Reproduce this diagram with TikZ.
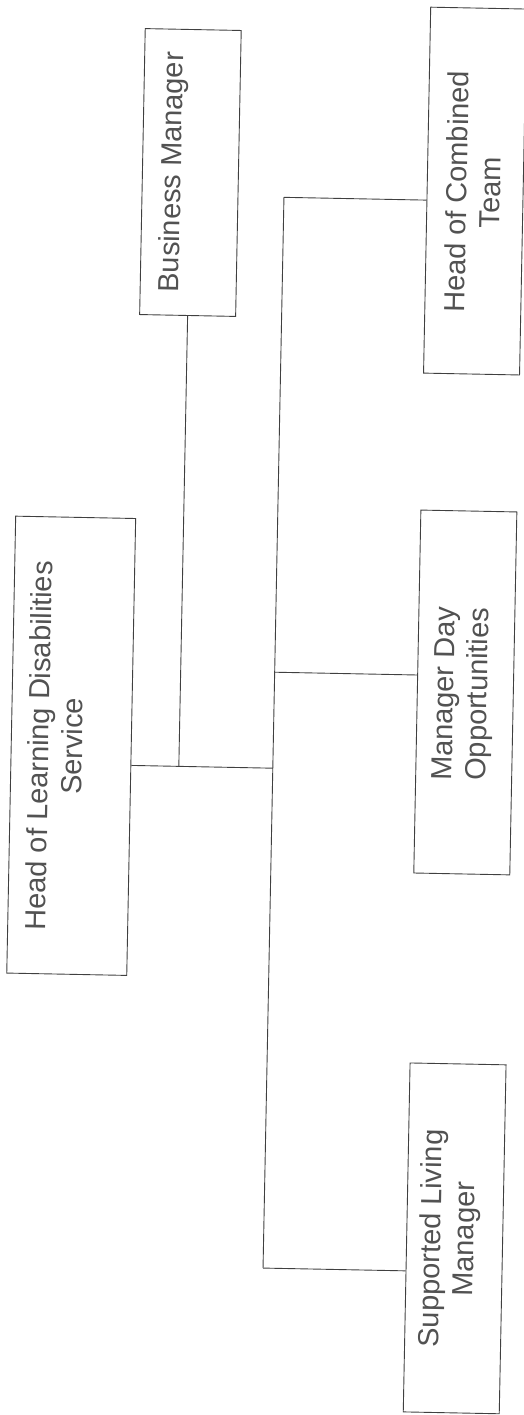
\documentclass[tikz,border=0pt]{standalone}
\usepackage{fontspec}
\setmainfont{Liberation Sans}
\begin{document}
\begin{tikzpicture}[x=1pt,y=1pt,
  box/.style={draw=black!75, line width=0.9pt, inner sep=0pt},
  lbl/.style={rotate=90, align=center, text=black!68, font=\fontsize{29}{33.5}\selectfont, inner sep=0pt},
  conn/.style={draw=black!75, line width=0.9pt}]
\useasboundingbox (0,0) rectangle (524,-1415);
\begin{scope}[rotate around={-1.12:(262,-707)}, transform shape]
  % boxes
  \node[box, minimum width=120, minimum height=457] (head) at (72,-749.5) {};
  \node[box, minimum width=96, minimum height=286] (bm) at (180,-174) {};
  \node[box, minimum width=96, minimum height=366] (hct) at (465,-187) {};
  \node[box, minimum width=96, minimum height=363] (mdo) at (465,-688.5) {};
  \node[box, minimum width=96, minimum height=349] (slm) at (465,-1234.5) {};
  % labels
  \node[lbl] (headT) at (56,-750) {Head of Learning Disabilities\\Service};
  \node[lbl] (bmT) at (163,-174) {Business Manager};
  \node[lbl] (hctT) at (463,-188) {Head of Combined\\Team};
  \node[lbl] (mdoT) at (463,-690) {Manager Day\\Opportunities};
  \node[lbl] (slmT) at (460,-1235) {Supported Living\\Manager};
  % junctions
  \coordinate (jHead) at (274,-768);
  \coordinate (jBM) at (180,-768);
  \coordinate (jHCT) at (274,-197);
  \coordinate (jMDO) at (274,-672);
  \coordinate (jSLM) at (274,-1268);
  % connectors
  \draw[conn] (head.east |- jHead) -- (jHead);
  \draw[conn] (bm.south) -- (jBM);
  \draw[conn] (jHCT) -- (jSLM);
  \draw[conn] (jHCT) -- (hct.west |- jHCT);
  \draw[conn] (jMDO) -- (mdo.west |- jMDO);
  \draw[conn] (jSLM) -- (slm.west |- jSLM);
\end{scope}
\end{tikzpicture}
\end{document}
